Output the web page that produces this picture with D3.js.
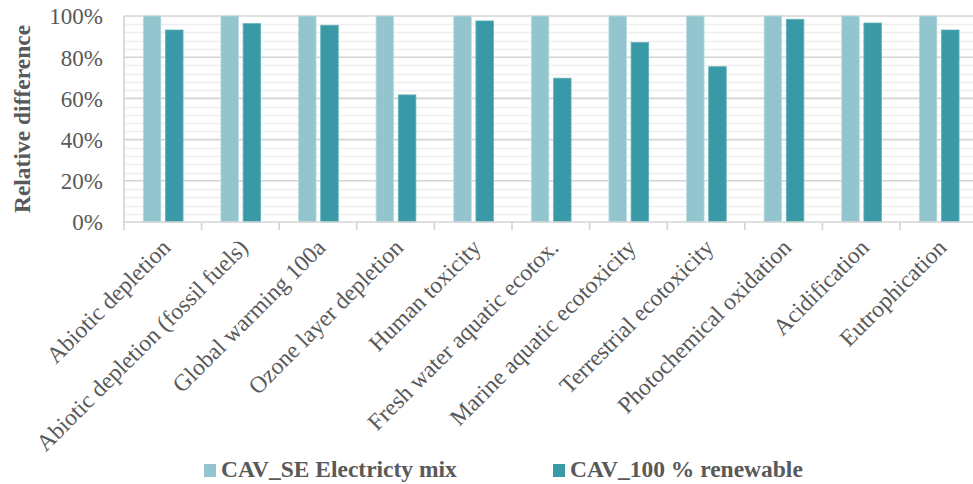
<!DOCTYPE html>
<html>
<head>
<meta charset="utf-8">
<script src="https://cdn.jsdelivr.net/npm/d3@7"></script>
<style>
  html, body { margin: 0; padding: 0; background: #fff; }
  svg { display: block; }
  text { font-family: "Liberation Serif", "Times New Roman", serif; fill: #595959; }
</style>
</head>
<body>
<div id="chart"></div>
<script>
// Impact categories and relative results per scenario
const categories = [
  "Abiotic depletion",
  "Abiotic depletion (fossil fuels)",
  "Global warming 100a",
  "Ozone layer depletion",
  "Human toxicity",
  "Fresh water aquatic ecotox.",
  "Marine aquatic ecotoxicity",
  "Terrestrial ecotoxicity",
  "Photochemical oxidation",
  "Acidification",
  "Eutrophication"
];
const seriesNames = ["CAV_SE Electricty mix", "CAV_100 % renewable"];
const seMix = [1, 1, 1, 1, 1, 1, 1, 1, 1, 1, 1];
const renewable = [0.932, 0.963, 0.955, 0.617, 0.976, 0.698, 0.872, 0.754, 0.984, 0.966, 0.932];
const yTicks = [0, 0.2, 0.4, 0.6, 0.8, 1.0];
const seriesColors = ["#92C5CE", "#3A99A6"];
const seriesStrokes = ["#B9DCE2", "#62B1BC"];

const W = 973, H = 484;
const plot = { left: 124, right: 977.6, top: 16, bottom: 222 };

const svg = d3.select("#chart").append("svg")
  .attr("width", W).attr("height", H);

const x0 = d3.scaleBand().domain(categories).range([plot.left, plot.right]).padding(0);
const x1 = d3.scaleBand().domain(seriesNames)
  .range([x0.bandwidth() * 0.249, x0.bandwidth() * 0.761])
  .paddingInner(0.21).paddingOuter(0);
const y = d3.scaleLinear().domain([0, 1]).range([plot.bottom, plot.top]);

// minor gridlines every 4 %
const minor = d3.range(0.04, 1.0001, 0.04).filter(v => Math.abs(v * 5 - Math.round(v * 5)) > 1e-6);
svg.append("g").selectAll("line").data(minor).join("line")
  .attr("x1", plot.left).attr("x2", plot.right)
  .attr("y1", d => Math.round(y(d)) + 0.5).attr("y2", d => Math.round(y(d)) + 0.5)
  .attr("stroke", "#EEEEEE").attr("stroke-width", 1.5);

// major gridlines every 20 %
svg.append("g").selectAll("line").data(yTicks.slice(1)).join("line")
  .attr("x1", plot.left).attr("x2", plot.right)
  .attr("y1", d => y(d)).attr("y2", d => y(d))
  .attr("stroke", "#D4D4D4").attr("stroke-width", 1.6);

// left axis line
svg.append("line")
  .attr("x1", plot.left).attr("x2", plot.left)
  .attr("y1", plot.top).attr("y2", plot.bottom)
  .attr("stroke", "#D4D4D4").attr("stroke-width", 1.6);

// bars
const rows = categories.map((c, i) => ({ cat: c, vals: [seMix[i], renewable[i]] }));
const groups = svg.append("g").selectAll("g").data(rows).join("g")
  .attr("transform", d => `translate(${x0(d.cat)},0)`);
groups.selectAll("rect").data(d => d.vals.map((v, k) => ({ key: seriesNames[k], v, k })))
  .join("rect")
  .attr("x", d => x1(d.key))
  .attr("width", x1.bandwidth())
  .attr("y", d => y(d.v))
  .attr("height", d => y(0) - y(d.v))
  .attr("fill", d => seriesColors[d.k])
  .attr("stroke", d => seriesStrokes[d.k])
  .attr("stroke-width", 0.8);

// category axis line and boundary ticks
svg.append("line")
  .attr("x1", plot.left).attr("x2", plot.right)
  .attr("y1", plot.bottom).attr("y2", plot.bottom)
  .attr("stroke", "#D4D4D4").attr("stroke-width", 1.6);
const boundaries = categories.map(c => x0(c)).concat([plot.right]);
svg.append("g").selectAll("line").data(boundaries).join("line")
  .attr("x1", d => d).attr("x2", d => d)
  .attr("y1", plot.bottom).attr("y2", plot.bottom + 8)
  .attr("stroke", "#D4D4D4").attr("stroke-width", 1.6);

svg.append("g").selectAll("text").data(categories).join("text")
  .attr("text-anchor", "end")
  .attr("font-size", 23.5)
  .attr("transform", d => `translate(${x0(d) + x0.bandwidth() / 2 + 9},${plot.bottom + 27}) rotate(-45)`)
  .text(d => d);

// value axis labels
const yAxis = d3.axisLeft(y).tickValues(yTicks).tickFormat(d3.format(".0%")).tickSize(0).tickPadding(21);
const ya = svg.append("g").attr("transform", `translate(${plot.left},0)`).call(yAxis);
ya.select(".domain").remove();
ya.selectAll("text")
  .attr("font-size", 23)
  .attr("font-family", "Liberation Serif, Times New Roman, serif")
  .attr("fill", "#595959")
  .attr("dy", "0.34em");

// axis title
svg.append("text")
  .attr("transform", `translate(30,${(plot.top + plot.bottom) / 2}) rotate(-90)`)
  .attr("text-anchor", "middle")
  .attr("font-size", 23.5)
  .attr("font-weight", "bold")
  .text("Relative difference");

// legend
const legendX = [204, 553];
const lg = svg.append("g").selectAll("g").data(seriesNames).join("g")
  .attr("transform", (d, i) => `translate(${legendX[i]},464)`);
lg.append("rect").attr("width", 12).attr("height", 13)
  .attr("fill", (d, i) => seriesColors[i]);
lg.append("text").attr("x", 17).attr("y", 12.5)
  .attr("font-size", 23.5).attr("font-weight", "bold")
  .text(d => d);
</script>
</body>
</html>
